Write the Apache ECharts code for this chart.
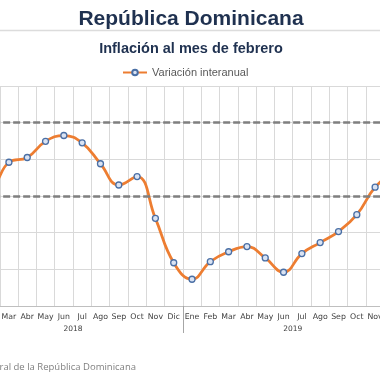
<!DOCTYPE html>
<html>
<head>
<meta charset="utf-8">
<script src="https://cdn.jsdelivr.net/npm/echarts@6/dist/echarts.min.js"></script>
<style>
html,body{margin:0;padding:0;background:#fff;overflow:hidden;width:380px;height:380px;}
#c{position:absolute;left:-38px;top:0;width:478px;height:380px;}
</style>
</head>
<body>
<div id="c"></div>
<script>
// Categories (months) Ene 2018 .. Feb 2020
const months = ['Ene','Feb','Mar','Abr','May','Jun','Jul','Ago','Sep','Oct','Nov','Dic',
                'Ene','Feb','Mar','Abr','May','Jun','Jul','Ago','Sep','Oct','Nov','Dic',
                'Ene','Feb'];
// Year labels and their center positions (month index units)
const years = ['2018','2019','2020'];
const yearCenters = [6, 18, 25];
const yearBreaks = [12, 24];
// Variación interanual (%)
const variacion = [3.45, 3.30, 3.92, 4.05, 4.49, 4.65, 4.45, 3.88, 3.30, 3.53, 2.39, 1.18,
                   0.73, 1.21, 1.48, 1.62, 1.31, 0.92, 1.43, 1.73, 2.03, 2.49, 3.24, 3.66,
                   4.05, 3.90];
// Target range bounds
const rangeBounds = [3, 5];

const OX = 38; // page-to-chart x offset
const chart = echarts.init(document.getElementById('c'), null, {renderer:'canvas'});
const navy = '#1f3150';
chart.setOption({
  animation:false,
  backgroundColor:'#fff',
  title:[
    {text:'República Dominicana', left:186+OX, top:4, textAlign:'center',
     textStyle:{fontFamily:'Liberation Sans', fontWeight:'bold', fontSize:21, color:navy}},
    {text:'Inflación al mes de febrero', left:186+OX, top:36, textAlign:'center',
     textStyle:{fontFamily:'Liberation Sans', fontWeight:'bold', fontSize:14.5, color:navy}}
  ],
  legend:{
    top:67, left:122+OX, padding:0, itemWidth:24, itemHeight:7, itemGap:4,
    textStyle:{fontFamily:'Liberation Sans', fontSize:11, color:'#595959'},
    data:['Variación interanual']
  },
  graphic:[
    {type:'line', shape:{x1:0,y1:30.5,x2:478,y2:30.5}, style:{stroke:'#dcdcdc', lineWidth:1.5}},
    {type:'text', x:136+OX, y:367, style:{text:'Fuente: Banco Central de la República Dominicana',
      align:'right', verticalAlign:'middle', fontFamily:'Open Sans', fontSize:9.5, fill:'#808080'}}
  ],
  grid:{left:-38.4+OX, right:478-(439.2+OX), top:86, bottom:74, containLabel:false},
  xAxis:[
    {type:'category', data:months, boundaryGap:true,
     axisLine:{show:true, lineStyle:{color:'#bfbfbf'}},
     axisTick:{show:false},
     splitLine:{show:true, interval:0, lineStyle:{color:'#d9d9d9', width:1}},
     axisLabel:{interval:0, margin:7, fontFamily:'DejaVu Sans', fontSize:7.8, color:'#404040'}},
    {type:'value', min:0, max:months.length, position:'bottom',
     axisLine:{show:false}, splitLine:{show:false},
     axisTick:{show:true, customValues:yearBreaks, length:27, lineStyle:{color:'#a6a6a6'}},
     axisLabel:{customValues:yearCenters, margin:19, fontFamily:'DejaVu Sans', fontSize:7.5, color:'#404040',
       formatter:function(v){return years[yearCenters.indexOf(v)];}}}
  ],
  yAxis:{type:'value', min:0, max:6, interval:1,
    axisLine:{show:false}, axisTick:{show:false}, axisLabel:{show:false},
    splitLine:{show:true, lineStyle:{color:'#d9d9d9', width:1}}},
  series:[{
    name:'Variación interanual', type:'line', data:variacion, smooth:0.45,
    xAxisIndex:0, yAxisIndex:0,
    lineStyle:{color:'#ed7d31', width:2.75},
    itemStyle:{color:'#dae3f3', borderColor:'#4a6fa5', borderWidth:1.3},
    symbol:'circle', symbolSize:6, showSymbol:true,
    markLine:{silent:true, symbol:'none', label:{show:false},
      lineStyle:{color:'#7f7f7f', type:[7,3], width:2.5},
      data:rangeBounds.map(v=>({yAxis:v}))},
    z:3
  }]
});
</script>
</body>
</html>
